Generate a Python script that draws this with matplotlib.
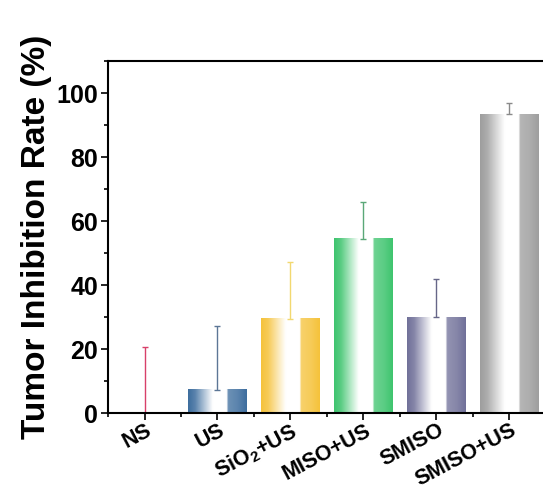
import numpy as np
import matplotlib
matplotlib.use('Agg')
import matplotlib.pyplot as plt
from matplotlib.ticker import MultipleLocator
import matplotlib.transforms as mtransforms

plt.rcParams['font.family'] = 'Liberation Sans'
plt.rcParams['font.weight'] = 'bold'
plt.rcParams['mathtext.fontset'] = 'custom'
plt.rcParams['mathtext.rm'] = 'Liberation Sans:bold'
plt.rcParams['mathtext.bf'] = 'Liberation Sans:bold'
plt.rcParams['mathtext.default'] = 'bf'

groups = ['NS', 'US', 'SiO$_2$+US', 'MISO+US', 'SMISO', 'SMISO+US']
rate = [0, 7.3, 29.4, 54.5, 29.9, 93.3]
err = [20.6, 19.8, 17.9, 11.3, 12.0, 3.5]
bar_colors = ['#e8607a', '#3d6d9e', '#f5c23a', '#3ec46e', '#707099', '#9e9e9e']
err_colors = ['#d8406a', '#5c7696', '#f2d870', '#5aa878', '#666688', '#8a8a8a']

# two-tone gradient profile (color weight across the bar width)
prof_t = [0, 0.12, 0.42, 0.66, 0.68, 0.85, 1.0]
prof_a = [1.0, 0.85, 0.0, 0.0, 0.75, 0.85, 1.0]

fig = plt.figure(figsize=(5.43, 4.90), dpi=100)
ax = fig.add_axes([0.199, 0.157, 0.806, 0.7185])

width = 0.8
t = np.linspace(0, 1, 200)
a = np.interp(t, prof_t, prof_a)
for i, (v, c) in enumerate(zip(rate, bar_colors)):
    if v <= 0:
        continue
    rgb = np.array(matplotlib.colors.to_rgb(c))
    img = a[:, None] * rgb[None, :] + (1 - a[:, None]) * 1.0
    ax.imshow(img[None, :, :], extent=[i - width / 2, i + width / 2, 0, v],
              aspect='auto', interpolation='bilinear', zorder=1)

for i, (v, e, c) in enumerate(zip(rate, err, err_colors)):
    ax.errorbar(i, v, yerr=[[0], [e]], color=c, lw=1.0, capsize=2,
                capthick=1.0, zorder=2)

ax.set_xlim(-0.5, 5.5)
ax.set_ylim(0, 110)
ax.yaxis.set_major_locator(MultipleLocator(20))
ax.yaxis.set_minor_locator(MultipleLocator(10))
ax.set_xticks(range(len(groups)))
ax.xaxis.set_minor_locator(MultipleLocator(0.5))
ax.tick_params(which='both', direction='out', width=1.2, pad=2)
ax.tick_params(axis='y', labelsize=18)
ax.tick_params(axis='x', labelsize=15.5, pad=0)
ax.tick_params(which='major', length=5)
ax.tick_params(which='minor', length=3)
for s in ax.spines.values():
    s.set_linewidth(1.5)

ax.set_xticklabels(groups, rotation=28, ha='right', va='top')
offset = mtransforms.ScaledTranslation(11 / 100, 0, fig.dpi_scale_trans)
for lab in ax.get_xticklabels():
    lab.set_transform(lab.get_transform() + offset)

ax.set_ylabel('Tumor Inhibition Rate (%)', fontsize=24, fontweight='bold', labelpad=3)

fig.savefig('out.png', dpi=100)
